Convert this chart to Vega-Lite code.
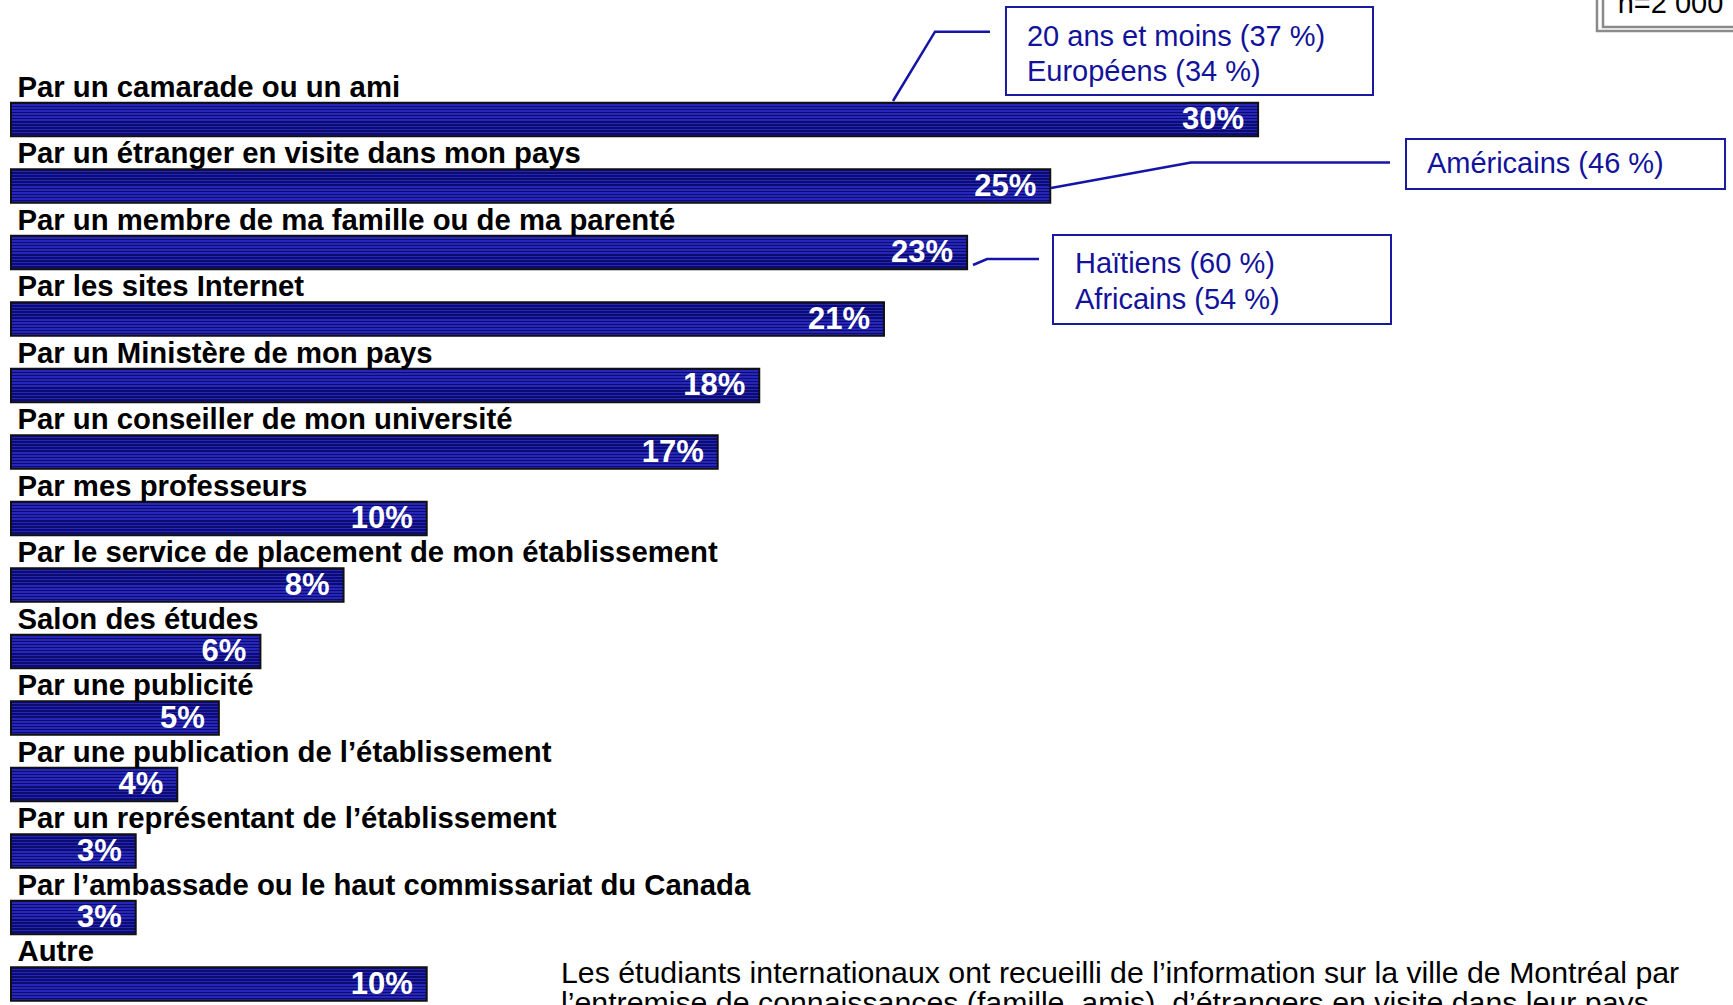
{
  "$schema": "https://vega.github.io/schema/vega-lite/v6.json",
  "width": 1733,
  "height": 1005,
  "autosize": "none",
  "padding": 0,
  "background": "white",
  "config": {"view": {"stroke": null}},
  "datasets": {
    "barres": [
      {"rang": 0, "cat": "Par un camarade ou un ami", "pct": 30, "libelle": "30%"},
      {"rang": 1, "cat": "Par un étranger en visite dans mon pays", "pct": 25, "libelle": "25%"},
      {"rang": 2, "cat": "Par un membre de ma famille ou de ma parenté", "pct": 23, "libelle": "23%"},
      {"rang": 3, "cat": "Par les sites Internet", "pct": 21, "libelle": "21%"},
      {"rang": 4, "cat": "Par un Ministère de mon pays", "pct": 18, "libelle": "18%"},
      {"rang": 5, "cat": "Par un conseiller de mon université", "pct": 17, "libelle": "17%"},
      {"rang": 6, "cat": "Par mes professeurs", "pct": 10, "libelle": "10%"},
      {"rang": 7, "cat": "Par le service de placement de mon établissement", "pct": 8, "libelle": "8%"},
      {"rang": 8, "cat": "Salon des études", "pct": 6, "libelle": "6%"},
      {"rang": 9, "cat": "Par une publicité", "pct": 5, "libelle": "5%"},
      {"rang": 10, "cat": "Par une publication de l’établissement", "pct": 4, "libelle": "4%"},
      {"rang": 11, "cat": "Par un représentant de l’établissement", "pct": 3, "libelle": "3%"},
      {"rang": 12, "cat": "Par l’ambassade ou le haut commissariat du Canada", "pct": 3, "libelle": "3%"},
      {"rang": 13, "cat": "Autre", "pct": 10, "libelle": "10%"}
    ],
    "encadres": [
      {"gauche": 23.935, "droite": 32.764, "haut": -1.692, "bas": -0.368},
      {"gauche": 33.558, "droite": 41.232, "haut": 0.293, "bas": 1.045},
      {"gauche": 25.066, "droite": 33.197, "haut": 1.737, "bas": 3.075}
    ],
    "cadre_n": [
      {"gauche": 38.152, "droite": 41.8, "haut": -2.2, "bas": -1.331},
      {"gauche": 38.297, "droite": 41.8, "haut": -2.2, "bas": -1.391}
    ],
    "notes": [
      {"texte": "20 ans et moins (37 %)", "x": 24.44, "y": -1.248},
      {"texte": "Européens (34 %)", "x": 24.44, "y": -0.714},
      {"texte": "Américains (46 %)", "x": 34.06, "y": 0.67},
      {"texte": "Haïtiens (60 %)", "x": 25.595, "y": 2.173},
      {"texte": "Africains (54 %)", "x": 25.595, "y": 2.707}
    ],
    "traits": [
      {"trait": "A", "ordre": 1, "x": 23.551, "y": -1.32},
      {"trait": "A", "ordre": 2, "x": 22.228, "y": -1.32},
      {"trait": "A", "ordre": 3, "x": 21.217, "y": -0.278},
      {"trait": "B", "ordre": 1, "x": 25.018, "y": 1.03},
      {"trait": "B", "ordre": 2, "x": 28.386, "y": 0.647},
      {"trait": "B", "ordre": 3, "x": 33.173, "y": 0.647},
      {"trait": "C", "ordre": 1, "x": 23.142, "y": 2.188},
      {"trait": "C", "ordre": 2, "x": 23.479, "y": 2.098},
      {"trait": "C", "ordre": 3, "x": 24.729, "y": 2.098}
    ],
    "effectif": [
      {"texte": "n=2 000", "x": 38.65, "y": -1.602}
    ],
    "paragraphe": [
      {"texte": "Les étudiants internationaux ont recueilli de l’information sur la ville de Montréal par", "x": 13.23, "y": 12.979},
      {"texte": "l’entremise de connaissances (famille, amis), d’étrangers en visite dans leur pays,", "x": 13.23, "y": 13.43}
    ]
  },
  "layer": [
    {
      "data": {"name": "barres"},
      "mark": {
        "type": "bar",
        "orient": "horizontal",
        "height": 33.5,
        "stroke": "#111111",
        "strokeWidth": 2,
        "fill": {
          "gradient": "linear",
          "x1": 0, "y1": 0, "x2": 0, "y2": 1,
          "stops": [
            {"offset": 0, "color": "#0b0b70"},
            {"offset": 0.0455, "color": "#0b0b70"},
            {"offset": 0.0455, "color": "#2626b8"},
            {"offset": 0.0909, "color": "#2626b8"},
            {"offset": 0.0909, "color": "#0b0b70"},
            {"offset": 0.1364, "color": "#0b0b70"},
            {"offset": 0.1364, "color": "#2626b8"},
            {"offset": 0.1818, "color": "#2626b8"},
            {"offset": 0.1818, "color": "#0b0b70"},
            {"offset": 0.2273, "color": "#0b0b70"},
            {"offset": 0.2273, "color": "#2626b8"},
            {"offset": 0.2727, "color": "#2626b8"},
            {"offset": 0.2727, "color": "#0b0b70"},
            {"offset": 0.3182, "color": "#0b0b70"},
            {"offset": 0.3182, "color": "#2626b8"},
            {"offset": 0.3636, "color": "#2626b8"},
            {"offset": 0.3636, "color": "#0b0b70"},
            {"offset": 0.4091, "color": "#0b0b70"},
            {"offset": 0.4091, "color": "#2626b8"},
            {"offset": 0.4545, "color": "#2626b8"},
            {"offset": 0.4545, "color": "#0b0b70"},
            {"offset": 0.5, "color": "#0b0b70"},
            {"offset": 0.5, "color": "#2626b8"},
            {"offset": 0.5455, "color": "#2626b8"},
            {"offset": 0.5455, "color": "#0b0b70"},
            {"offset": 0.5909, "color": "#0b0b70"},
            {"offset": 0.5909, "color": "#2626b8"},
            {"offset": 0.6364, "color": "#2626b8"},
            {"offset": 0.6364, "color": "#0b0b70"},
            {"offset": 0.6818, "color": "#0b0b70"},
            {"offset": 0.6818, "color": "#2626b8"},
            {"offset": 0.7273, "color": "#2626b8"},
            {"offset": 0.7273, "color": "#0b0b70"},
            {"offset": 0.7727, "color": "#0b0b70"},
            {"offset": 0.7727, "color": "#2626b8"},
            {"offset": 0.8182, "color": "#2626b8"},
            {"offset": 0.8182, "color": "#0b0b70"},
            {"offset": 0.8636, "color": "#0b0b70"},
            {"offset": 0.8636, "color": "#2626b8"},
            {"offset": 0.9091, "color": "#2626b8"},
            {"offset": 0.9091, "color": "#0b0b70"},
            {"offset": 0.9545, "color": "#0b0b70"},
            {"offset": 0.9545, "color": "#2626b8"},
            {"offset": 1, "color": "#2626b8"}
          ]
        }
      },
      "encoding": {
        "x": {"field": "pct", "type": "quantitative", "axis": null, "stack": null,
              "scale": {"domain": [-0.2646, 41.424], "zero": false, "nice": false, "padding": 0}},
        "y": {"field": "rang", "type": "quantitative", "axis": null,
              "scale": {"domain": [-1.797, 13.316], "reverse": true, "zero": false, "nice": false, "padding": 0}}
      }
    },
    {
      "data": {"name": "barres"},
      "mark": {"type": "text", "align": "right", "baseline": "middle", "dx": -14, "dy": 1,
               "font": "Liberation Sans", "fontSize": 31, "fontWeight": "bold", "color": "white"},
      "encoding": {
        "x": {"field": "pct", "type": "quantitative"},
        "y": {"field": "rang", "type": "quantitative"},
        "text": {"field": "libelle"}
      }
    },
    {
      "data": {"name": "barres"},
      "mark": {"type": "text", "align": "left", "baseline": "middle", "dx": 6.5, "dy": -31.5,
               "font": "Liberation Sans", "fontSize": 29.3, "fontWeight": "bold", "color": "#000000"},
      "encoding": {
        "x": {"datum": 0, "type": "quantitative"},
        "y": {"field": "rang", "type": "quantitative"},
        "text": {"field": "cat"}
      }
    },
    {
      "data": {"name": "traits"},
      "mark": {"type": "line", "color": "#1414a8", "strokeWidth": 2.5},
      "encoding": {
        "x": {"field": "x", "type": "quantitative"},
        "y": {"field": "y", "type": "quantitative"},
        "detail": {"field": "trait"},
        "order": {"field": "ordre"}
      }
    },
    {
      "data": {"name": "encadres"},
      "mark": {"type": "rect", "fill": "white", "stroke": "#1a1aa0", "strokeWidth": 2},
      "encoding": {
        "x": {"field": "gauche", "type": "quantitative"},
        "x2": {"field": "droite"},
        "y": {"field": "haut", "type": "quantitative"},
        "y2": {"field": "bas"}
      }
    },
    {
      "data": {"name": "cadre_n"},
      "mark": {"type": "rect", "fill": "transparent", "stroke": "#8a8a8a", "strokeWidth": 2.5},
      "encoding": {
        "x": {"field": "gauche", "type": "quantitative"},
        "x2": {"field": "droite"},
        "y": {"field": "haut", "type": "quantitative"},
        "y2": {"field": "bas"}
      }
    },
    {
      "data": {"name": "notes"},
      "mark": {"type": "text", "align": "left", "baseline": "middle",
               "font": "Liberation Sans", "fontSize": 29, "color": "#12129a"},
      "encoding": {
        "x": {"field": "x", "type": "quantitative"},
        "y": {"field": "y", "type": "quantitative"},
        "text": {"field": "texte"}
      }
    },
    {
      "data": {"name": "effectif"},
      "mark": {"type": "text", "align": "left", "baseline": "alphabetic",
               "font": "Liberation Sans", "fontSize": 29, "color": "#000000"},
      "encoding": {
        "x": {"field": "x", "type": "quantitative"},
        "y": {"field": "y", "type": "quantitative"},
        "text": {"field": "texte"}
      }
    },
    {
      "data": {"name": "paragraphe"},
      "mark": {"type": "text", "align": "left", "baseline": "alphabetic",
               "font": "Liberation Sans", "fontSize": 30.3, "color": "#000000"},
      "encoding": {
        "x": {"field": "x", "type": "quantitative"},
        "y": {"field": "y", "type": "quantitative"},
        "text": {"field": "texte"}
      }
    }
  ]
}
